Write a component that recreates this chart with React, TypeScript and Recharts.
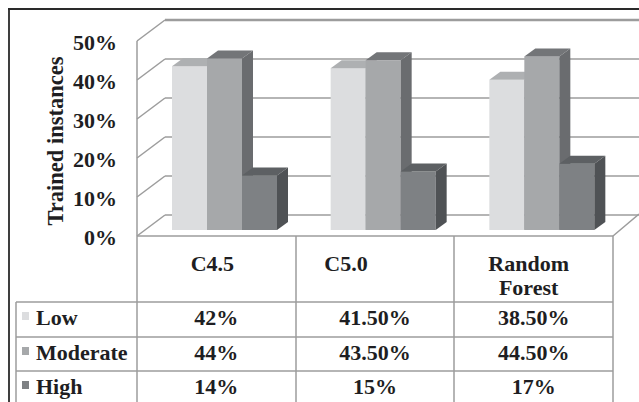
import React from "react";
import { BarChart, Bar, XAxis, YAxis, CartesianGrid } from "recharts";

const categories = ["C4.5", "C5.0", "Random Forest"];
const lowValues = [42, 41.5, 38.5];
const moderateValues = [44, 43.5, 44.5];
const highValues = [14, 15, 17];
const seriesNames = ["Low", "Moderate", "High"];
const yTicks = [0, 10, 20, 30, 40, 50];

const data = categories.map((name, i) => ({
  name,
  low: lowValues[i],
  moderate: moderateValues[i],
  high: highValues[i],
}));

const tableValues = [lowValues, moderateValues, highValues];

const FONT = "'Liberation Serif', 'Times New Roman', serif";
const INK = "#1e1e22";
const LINE = "#9c9c9c";
const FS = 22;

// front / top / side shades for the 3d blocks
const shades = [
  { front: "#dcdddf", top: "#aeb0b2", side: "#989a9c" },
  { front: "#a6a8aa", top: "#737578", side: "#6a6c6f" },
  { front: "#7e8184", top: "#5d6063", side: "#4f5255" },
];

const DX = 11;
const DY = 8;

function Block(props: any) {
  const { x, y, width: w, height: h, shade } = props;
  if (!w || h == null) return null;
  return (
    <g>
      <rect x={x} y={y} width={w} height={h} fill={shade.front} />
      <polygon
        points={`${x},${y} ${x + w},${y} ${x + w + DX},${y - DY} ${x + DX},${y - DY}`}
        fill={shade.top}
      />
      <polygon
        points={`${x + w},${y} ${x + w + DX},${y - DY} ${x + w + DX},${y + h - DY} ${x + w},${y + h}`}
        fill={shade.side}
      />
    </g>
  );
}

function wallLine(p: any) {
  const { x1, x2, y1, index } = p;
  return (
    <g key={`wall-${index}`}>
      <line x1={x1 - 8} y1={y1 + 6} x2={x1 + 20} y2={y1 - 15} stroke={LINE} strokeWidth={1.5} />
      <line x1={x1 + 20} y1={y1 - 15} x2={x2 + 22} y2={y1 - 15} stroke={LINE} strokeWidth={index === yTicks.length - 1 ? 2.5 : 1.5} />
    </g>
  );
}

function YTick(props: any) {
  const { y, payload } = props;
  return (
    <text x={117} y={y + 15} textAnchor="end" fontFamily={FONT} fontWeight="bold" fontSize={FS} fill={INK}>
      {`${payload.value}%`}
    </text>
  );
}

const headerNudge = [-4, -29, -5];
const rowBaselines = [325, 360, 394];

function TableColumn(props: any) {
  const { x, payload, index } = props;
  const cx = x - 8;
  const words = String(payload.value).split(" ");
  const hx = cx + headerNudge[index];
  return (
    <g fontFamily={FONT} fontWeight="bold" fontSize={FS} fill={INK} textAnchor="middle">
      {words.length > 1 ? (
        words.map((wd, k) => (
          <text key={k} x={hx} y={271 + k * 24}>{wd}</text>
        ))
      ) : (
        <text x={hx} y={271}>{payload.value}</text>
      )}
      {tableValues.map((vals, r) => (
        <text key={r} x={cx} y={rowBaselines[r]}>{`${vals[index].toFixed(vals[index] % 1 ? 2 : 0)}%`}</text>
      ))}
    </g>
  );
}

function Frame() {
  const cols = [137, 296, 454, 613];
  return (
    <svg width={639} height={402} style={{ position: "absolute", left: 0, top: 0 }}>
      <line x1={8} y1={9} x2={639} y2={9} stroke="#2a2a2a" strokeWidth={1.8} />
      <line x1={9} y1={9} x2={9} y2={402} stroke="#2a2a2a" strokeWidth={1.8} />
      <line x1={137} y1={41} x2={137} y2={236} stroke={LINE} strokeWidth={1.5} />
      <line x1={137} y1={236} x2={613} y2={236} stroke={LINE} strokeWidth={1.5} />
      <line x1={613} y1={236} x2={639} y2={214} stroke={LINE} strokeWidth={1.5} />
      {cols.map((cx) => (
        <line key={cx} x1={cx} y1={236} x2={cx} y2={402} stroke={LINE} strokeWidth={1.5} />
      ))}
      <line x1={16} y1={302} x2={16} y2={402} stroke={LINE} strokeWidth={1.5} />
      {[302, 337, 371].map((ry) => (
        <line key={ry} x1={16} y1={ry} x2={613} y2={ry} stroke={LINE} strokeWidth={1.5} />
      ))}
      {seriesNames.map((s, r) => (
        <g key={s}>
          <rect x={22} y={rowBaselines[r] - 13} width={7} height={8} fill={shades[r].front} />
          <text x={36} y={rowBaselines[r]} fontFamily={FONT} fontWeight="bold" fontSize={FS} fill={INK}>{s}</text>
        </g>
      ))}
      <text
        transform="translate(63,141) rotate(-90)"
        textAnchor="middle"
        fontFamily={FONT}
        fontWeight="bold"
        fontSize={22.5}
        fill={INK}
      >
        Trained instances
      </text>
    </svg>
  );
}

export default function App() {
  return (
    <div style={{ position: "relative", width: 639, height: 402, background: "#fff", overflow: "hidden" }}>
      <style>{"body{margin:0}"}</style>
      <Frame />
      <div style={{ position: "absolute", left: 0, top: 0 }}>
        <BarChart
          width={639}
          height={402}
          data={data}
          margin={{ top: 35, right: 18, bottom: 142, left: 0 }}
          barCategoryGap={27}
          barGap={0}
        >
          <CartesianGrid vertical={false} horizontal={wallLine} />
          <XAxis dataKey="name" height={30} axisLine={false} tickLine={false} tick={<TableColumn />} interval={0} />
          <YAxis width={145} domain={[0, 50]} ticks={yTicks} axisLine={false} tickLine={false} tick={<YTick />} interval={0} />
          <Bar dataKey="low" isAnimationActive={false} shape={(p: any) => <Block {...p} shade={shades[0]} />} />
          <Bar dataKey="moderate" isAnimationActive={false} shape={(p: any) => <Block {...p} shade={shades[1]} />} />
          <Bar dataKey="high" isAnimationActive={false} shape={(p: any) => <Block {...p} shade={shades[2]} />} />
        </BarChart>
      </div>
    </div>
  );
}
